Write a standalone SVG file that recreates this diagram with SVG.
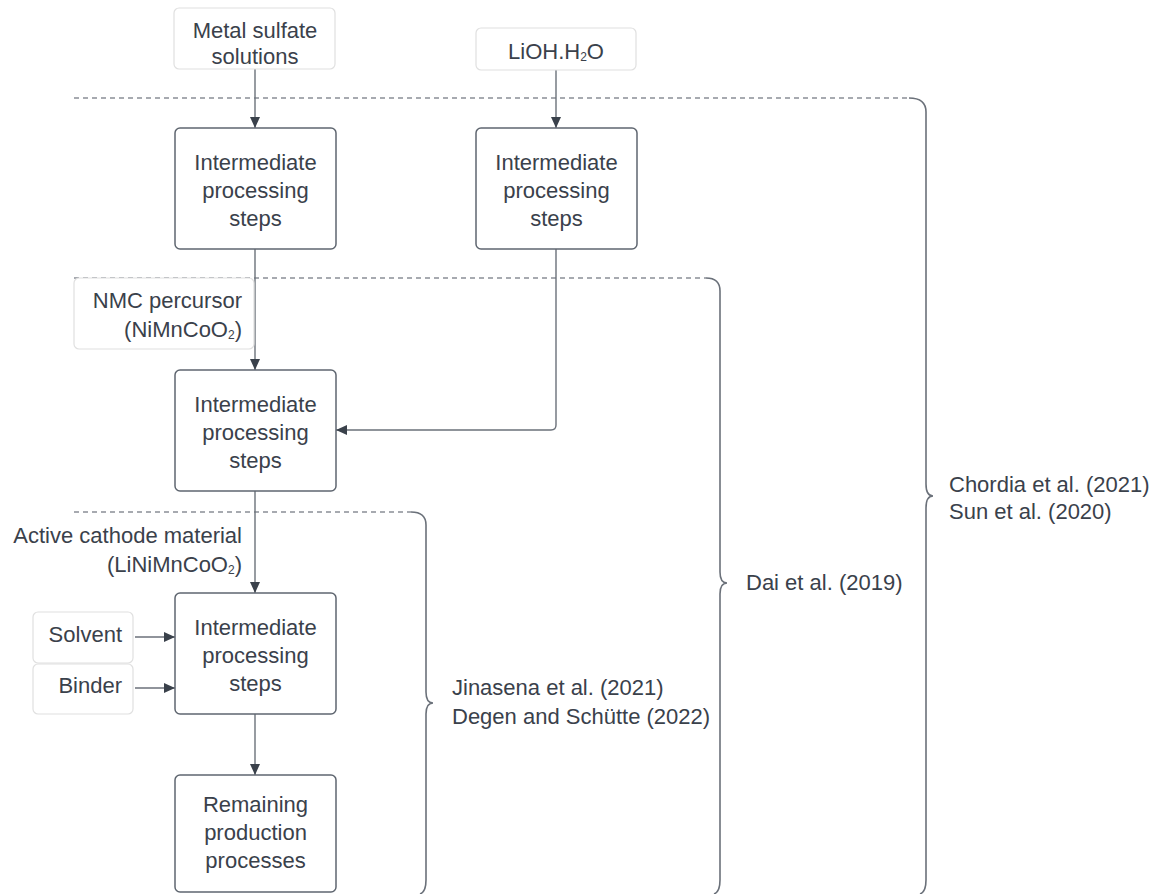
<svg xmlns="http://www.w3.org/2000/svg" width="1159" height="894" viewBox="0 0 1159 894">
<style>
text{font-family:"Liberation Sans",Arial,sans-serif;font-size:22px;fill:#3a414b}
.c{text-anchor:middle}
.r{text-anchor:end}
.box{fill:#fff;stroke:#5f6670;stroke-width:1.5}
.in{fill:#fff;stroke:#e0e0e0;stroke-width:1.2}
.ln{fill:none;stroke:#6b717a;stroke-width:1.4}
.dash{fill:none;stroke:#8a8f96;stroke-width:1.4;stroke-dasharray:5 4}
.br{fill:none;stroke:#6b717a;stroke-width:1.6}
.sub{font-size:12px}
</style>
<defs>
<marker id="ah" markerUnits="userSpaceOnUse" markerWidth="12" markerHeight="11" refX="11" refY="5" orient="auto">
<path d="M0,0 L11,5 L0,10 z" fill="#3a414b"/>
</marker>
</defs>
<rect width="1159" height="894" fill="#fff"/>

<g id="levels">
<path class="dash" d="M74,98 H909"/>
<path class="br" d="M909,98 Q926,98 926,112 V484 Q926,496 933,496 Q926,496 926,508 V880 Q926,892 920,894"/>
<path class="dash" d="M74,278 H706"/>
<path class="br" d="M706,278 Q720,278 720,291 V572 Q720,583 727,583 Q720,583 720,594 V880 Q720,892 714,894"/>
<path class="dash" d="M74,512 H411"/>
<path class="br" d="M411,512 Q426,512 426,525 V692 Q426,703 433,703 Q426,703 426,714 V880 Q426,892 420,894"/>
</g>

<g id="connectors">
<path class="ln" d="M255,69 V128" marker-end="url(#ah)"/>
<path class="ln" d="M556,70 V128" marker-end="url(#ah)"/>
<path class="ln" d="M255,249 V370" marker-end="url(#ah)"/>
<path class="ln" d="M556,249 V425 Q556,430 551,430 H336" marker-end="url(#ah)"/>
<path class="ln" d="M255,491 V593" marker-end="url(#ah)"/>
<path class="ln" d="M255,714 V775" marker-end="url(#ah)"/>
<path class="ln" d="M135,637 H175" marker-end="url(#ah)"/>
<path class="ln" d="M135,688 H175" marker-end="url(#ah)"/>
</g>

<g id="metal">
<rect class="in" x="174" y="8" width="161" height="61" rx="5"/>
<text class="c" x="255" y="38">Metal sulfate</text>
<text class="c" x="255" y="64">solutions</text>
</g>
<g id="lioh">
<rect class="in" x="476" y="28" width="160" height="42" rx="5"/>
<text class="c" x="556" y="59">LiOH.H<tspan class="sub" dy="2">2</tspan><tspan dy="-2">O</tspan></text>
</g>

<g id="step1">
<rect class="box" x="175" y="128" width="161" height="121" rx="5"/>
<text class="c" x="255.5" y="170">Intermediate</text>
<text class="c" x="255.5" y="198">processing</text>
<text class="c" x="255.5" y="226">steps</text>
</g>
<g id="step2">
<rect class="box" x="476" y="128" width="161" height="121" rx="5"/>
<text class="c" x="556.5" y="170">Intermediate</text>
<text class="c" x="556.5" y="198">processing</text>
<text class="c" x="556.5" y="226">steps</text>
</g>

<g id="nmc">
<rect class="in" x="74" y="278" width="180" height="71" rx="5"/>
<text class="r" x="242" y="308">NMC percursor</text>
<text class="r" x="242" y="337">(NiMnCoO<tspan class="sub" dy="2">2</tspan><tspan dy="-2">)</tspan></text>
</g>

<g id="step3">
<rect class="box" x="175" y="370" width="161" height="121" rx="5"/>
<text class="c" x="255.5" y="412">Intermediate</text>
<text class="c" x="255.5" y="440">processing</text>
<text class="c" x="255.5" y="468">steps</text>
</g>

<g id="acm">
<text class="r" x="242" y="543">Active cathode material</text>
<text class="r" x="242" y="572">(LiNiMnCoO<tspan class="sub" dy="2">2</tspan><tspan dy="-2">)</tspan></text>
</g>

<g id="solvent">
<rect class="in" x="33" y="612" width="100" height="51" rx="5"/>
<text class="r" x="122" y="642">Solvent</text>
</g>
<g id="binder">
<rect class="in" x="33" y="664" width="100" height="50" rx="5"/>
<text class="r" x="122" y="693">Binder</text>
</g>

<g id="step4">
<rect class="box" x="175" y="593" width="161" height="121" rx="5"/>
<text class="c" x="255.5" y="635">Intermediate</text>
<text class="c" x="255.5" y="663">processing</text>
<text class="c" x="255.5" y="691">steps</text>
</g>

<g id="remaining">
<rect class="box" x="175" y="775" width="161" height="117" rx="5"/>
<text class="c" x="255.5" y="812">Remaining</text>
<text class="c" x="255.5" y="840">production</text>
<text class="c" x="255.5" y="868">processes</text>
</g>

<g id="refs">
<text x="949" y="492">Chordia et al. (2021)</text>
<text x="949" y="519">Sun et al. (2020)</text>
<text x="746" y="590">Dai et al. (2019)</text>
<text x="452" y="695">Jinasena et al. (2021)</text>
<text x="452" y="724">Degen and Schütte (2022)</text>
</g>
</svg>
